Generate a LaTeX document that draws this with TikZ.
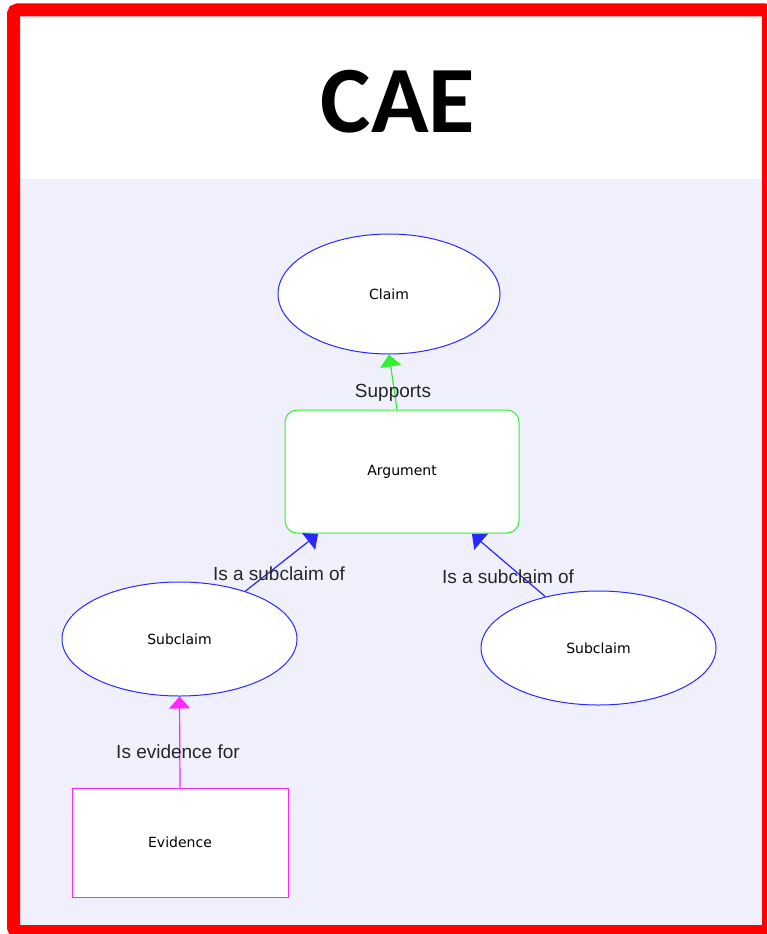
\documentclass[tikz,border=0pt]{standalone}
\usepackage{fontspec}
\setmainfont{Liberation Sans}
\newfontfamily\titlefont{Carlito}
\newfontfamily\nodefont{DejaVu Sans}
\usetikzlibrary{arrows.meta,shapes.geometric}
\definecolor{bgl}{RGB}{240,240,252}
\definecolor{eblue}{RGB}{40,40,255}
\definecolor{egreen}{RGB}{50,240,50}
\definecolor{emag}{RGB}{255,40,255}
\tikzset{
  claimnode/.style={ellipse,draw=eblue,fill=white,line width=1pt,inner sep=0pt,font=\nodefont\fontsize{14}{16}\selectfont},
  argnode/.style={rectangle,rounded corners=12pt,draw=egreen,fill=white,line width=1pt,inner sep=0pt,font=\nodefont\fontsize{14}{16}\selectfont},
  evnode/.style={rectangle,draw=emag,fill=white,line width=1pt,inner sep=0pt,font=\nodefont\fontsize{14}{16}\selectfont},
  link/.style={line width=1.2pt,-{Triangle[length=12pt,width=21pt]}},
  lbl/.style={font=\fontsize{19}{21}\selectfont,text=black!85,inner sep=1pt}
}
\begin{document}
\begin{tikzpicture}[x=1pt,y=-1pt]
\useasboundingbox (0,0) rectangle (767,934);
\fill[bgl] (20,179) rectangle (762,925);
\node[font=\titlefont\bfseries\fontsize{95}{105}\selectfont] (title) at (398,102) {CAE};
\node[claimnode,minimum width=222pt,minimum height=120pt] (claim) at (389,294) {Claim};
\node[argnode,minimum width=234pt,minimum height=123pt] (arg) at (402,471.5) {Argument};
\node[claimnode,minimum width=235pt,minimum height=114pt] (sub1) at (179.5,639) {Subclaim};
\node[claimnode,minimum width=235pt,minimum height=114pt] (sub2) at (598.5,648) {Subclaim};
\node[evnode,minimum width=216pt,minimum height=109pt] (ev) at (180,842.5) {Evidence};
\draw[link,draw=egreen,fill=egreen] (arg.north -| 397,0) -- (claim.south);
\draw[link,draw=eblue,fill=eblue] (sub1.36) -- (318,534);
\draw[link,draw=eblue,fill=eblue] (sub2.136) -- (472,534);
\draw[link,draw=emag,fill=emag] (ev.north) -- (sub1.south);
\node[lbl] (l1) at (393,393) {Supports};
\node[lbl] (l2) at (279,574) {Is a subclaim of};
\node[lbl] (l3) at (508,577) {Is a subclaim of};
\node[lbl] (l4) at (178,752) {Is evidence for};
\draw[red,line width=13pt,rounded corners=4pt] (13.5,10) rectangle (768.5,931.5);
\end{tikzpicture}
\end{document}
